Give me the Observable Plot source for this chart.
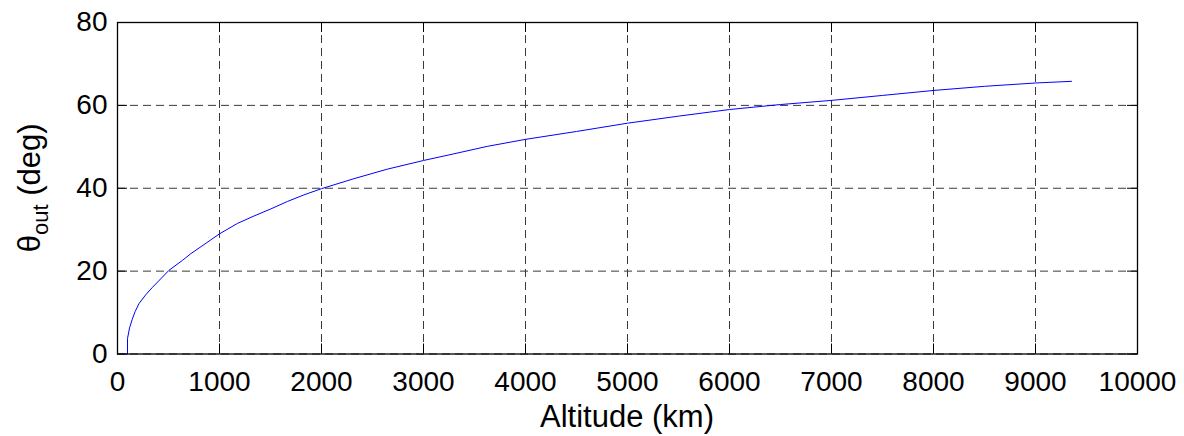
<!DOCTYPE html>
<html>
<head>
<meta charset="utf-8">
<script src="https://cdn.jsdelivr.net/npm/d3@7"></script>
<script src="https://cdn.jsdelivr.net/npm/@observablehq/plot@0.6"></script>
<style>
  html, body { margin: 0; padding: 0; background: #fff; }
  #chart svg { display: block; }
</style>
</head>
<body>
<div id="chart"></div>
<script>
// Altitude (km) and outgoing angle θ_out (deg)
const altitude = [98, 98, 118, 145, 172, 212, 277, 343, 505, 637, 718, 848, 1000, 1175, 1338, 1502, 1665, 1828, 2000, 2317, 2644, 3000, 3297, 3624, 4000, 4500, 5000, 5500, 6000, 6500, 7000, 7500, 8000, 8500, 9000, 9353];
const theta    = [0, 3.7, 6.3, 8.4, 10.2, 12.2, 14.3, 16.1, 20.2, 22.6, 24.2, 26.4, 29.0, 31.5, 33.3, 35.0, 36.8, 38.4, 39.9, 42.3, 44.6, 46.7, 48.3, 50.1, 51.8, 53.7, 55.7, 57.4, 59.0, 60.2, 61.2, 62.4, 63.6, 64.6, 65.4, 65.8];

const xTicks = [0, 1000, 2000, 3000, 4000, 5000, 6000, 7000, 8000, 9000, 10000];
const yTicks = [0, 20, 40, 60, 80];
const xLabel = "Altitude (km)";
const yLabelMain = "θ";
const yLabelSub = "out";
const yLabelUnit = " (deg)";

const data = altitude.map((a, i) => ({altitude: a, theta: theta[i]}));

const W = 1184, H = 436;
const mL = 117, mR = 47, mT = 22, mB = 82.5;
const plotW = W - mL - mR, plotH = H - mT - mB;
const tickLen = 10;
const gridStyle = {stroke: "#3a3a3a", strokeWidth: 1, strokeDasharray: "8,5"};

const chart = Plot.plot({
  width: W,
  height: H,
  marginLeft: mL,
  marginRight: mR,
  marginTop: mT,
  marginBottom: mB,
  style: {fontFamily: "'Liberation Sans', Arial, sans-serif", background: "#fff", color: "#000"},
  x: {domain: [0, 10000]},
  y: {domain: [0, 80]},
  marks: [
    // dashed grid
    Plot.ruleX(xTicks, {x: d => d, ...gridStyle}),
    Plot.ruleY(yTicks, {y: d => d, ...gridStyle}),
    // inward ticks (bottom, top, left, right)
    Plot.ruleX(xTicks, {x: d => d, stroke: "#000", insetTop: plotH - tickLen}),
    Plot.ruleX(xTicks, {x: d => d, stroke: "#000", insetBottom: plotH - tickLen}),
    Plot.ruleY(yTicks, {y: d => d, stroke: "#000", insetRight: plotW - tickLen}),
    Plot.ruleY(yTicks, {y: d => d, stroke: "#000", insetLeft: plotW - tickLen}),
    // curve
    Plot.line(data, {x: "altitude", y: "theta", stroke: "#0000ff", strokeWidth: 1}),
    Plot.frame({stroke: "#000", strokeWidth: 1.3}),
    Plot.axisX(xTicks, {tickSize: 0, tickPadding: 17, fontSize: 28, label: null, tickFormat: d => String(d)}),
    Plot.axisY(yTicks, {tickSize: 0, tickPadding: 10, fontSize: 28, label: null, tickFormat: d => String(d)})
  ]
});

const svg = d3.select(chart);
// x axis label
svg.append("text")
  .attr("x", mL + plotW / 2)
  .attr("y", 427)
  .attr("text-anchor", "middle")
  .attr("font-size", 31)
  .attr("fill", "#000")
  .text(xLabel);
// y axis label with subscript
const yl = svg.append("text")
  .attr("transform", `translate(40,${mT + plotH / 2}) rotate(-90)`)
  .attr("text-anchor", "middle")
  .attr("font-size", 31)
  .attr("fill", "#000");
yl.append("tspan").text(yLabelMain);
yl.append("tspan").attr("font-size", 22).attr("dy", 8).text(yLabelSub);
yl.append("tspan").attr("dy", -8).text(yLabelUnit);

document.getElementById("chart").appendChild(chart);
</script>
</body>
</html>
